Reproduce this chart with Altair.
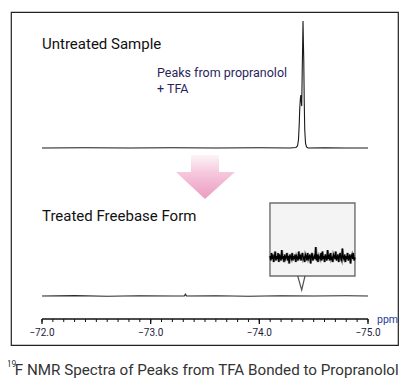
import altair as alt
import pandas as pd

# ---------------- data ----------------
# Untreated sample: 19F spectrum (ppm, normalised intensity)
upper_ppm = [-72.0, -72.4, -72.8, -73.2, -73.6, -74.0, -74.282, -74.337, -74.351, -74.360,
             -74.367, -74.372, -74.378, -74.382, -74.386, -74.390, -74.395, -74.402, -74.405,
             -74.409, -74.413, -74.418, -74.425, -74.434, -74.448, -74.6, -74.8, -75.0]
upper_int = [0.0, 0.002, 0.0, 0.002, 0.0, 0.002, 0.0, 0.004, 0.016, 0.063,
             0.181, 0.315, 0.394, 0.417, 0.37, 0.33, 0.62, 1.0, 0.85,
             0.69, 0.378, 0.142, 0.039, 0.008, 0.0, 0.002, 0.0, 0.0]

# Treated free-base form: flat spectrum (ppm, normalised intensity)
lower_ppm = [-72.0, -72.3, -72.6, -72.9, -73.2, -73.31, -73.32, -73.33, -73.6, -73.9,
             -74.2, -74.5, -74.8, -75.0]
lower_int = [0.0, 0.003, -0.002, 0.002, 0.0, 0.0, 0.014, 0.0, 0.002, -0.002,
             0.002, 0.0, 0.002, 0.0]

# Inset: magnified noise around -74.4 ppm (offsets, px-like units)
inset_noise = [1, -2, 3, -1, 2, -3, 0, 4, -2, 1, -1, 3, -3, 2, 0, -2, 5, -1, 1, -3,
               2, -1, 0, 3, -2, 1, -4, 2, 0, -1, 3, -2, 1, -1, 2, -3, 1, 0, -2, 4,
               -1, 2, -2, 1, 3, -1, 0, -3, 2, 1, -2, 3, -1, 0, 2, -4, 1, 3, -2, 0,
               1, -1, 7, -2, 2, -3, 1, 0, -1, 3, -2, 4, -1, 1, -3, 2, 0, -2, 5, -1,
               2, -2, 3, -1, 0, -3, 2, 1, -1, 4, -2, 0, 2, -3, 1, 3, -1, -2, 6, 0,
               -1, 2, -3, 1, -1, 3, -2, 0, 2, -4, 1, 2, -1, 3, -2, 0]

major_ticks = [-72.0, -73.0, -74.0, -75.0]
tick_labels = ["\u221272.0", "\u221273.0", "\u221274.0", "\u221275.0"]
minor_ticks = [round(-72.0 - 0.1 * i, 1) for i in range(31)]

titles = ["Untreated Sample", "Treated Freebase Form"]
note_lines = ["Peaks from propranolol", "+ TFA"]
caption_sup = "19"
caption_main = "F NMR Spectra of Peaks from TFA Bonded to Propranolol"

# ---------------- layout (scale units) ----------------
W, H = 387, 333
X_DOMAIN = [-75.2761, -71.7147]
UPPER_BASE, LOWER_BASE, PEAK_H = 197, 49, 127
AXIS_V, MAJOR_END, MINOR_END, LABEL_V = 26, 21, 23, 9
NOISE_GAIN = 1.5

xs = alt.Scale(domain=X_DOMAIN, reverse=True, nice=False, zero=False)
ys = alt.Scale(domain=[0, H], nice=False, zero=False)

def X(f="ppm"):
    return alt.X(f"{f}:Q", scale=xs, axis=None)

def Y(f="v"):
    return alt.Y(f"{f}:Q", scale=ys, axis=None)

upper_df = pd.DataFrame({"ppm": upper_ppm,
                         "v": [UPPER_BASE + i * PEAK_H for i in upper_int],
                         "o": range(len(upper_ppm))})
lower_df = pd.DataFrame({"ppm": lower_ppm,
                         "v": [LOWER_BASE + i * PEAK_H for i in lower_int],
                         "o": range(len(lower_ppm))})

upper = alt.Chart(upper_df).mark_line(color="#1a1a1a", strokeWidth=1.1).encode(
    x=X(), y=Y(), order="o:Q")
lower = alt.Chart(lower_df).mark_line(color="#2a2a2a", strokeWidth=1.2).encode(
    x=X(), y=Y(), order="o:Q")

# axis
axis_line = alt.Chart(pd.DataFrame({"ppm": [major_ticks[0]], "ppm2": [major_ticks[-1]],
                                    "v": [AXIS_V]})).mark_rule(
    color="#111", strokeWidth=1.3).encode(x=X(), x2="ppm2:Q", y=Y())
minor = alt.Chart(pd.DataFrame({"ppm": minor_ticks, "v": AXIS_V, "v2": MINOR_END})).mark_rule(
    color="#111", strokeWidth=1).encode(x=X(), y=Y(), y2="v2:Q")
major = alt.Chart(pd.DataFrame({"ppm": major_ticks, "v": AXIS_V, "v2": MAJOR_END})).mark_rule(
    color="#111", strokeWidth=1.3).encode(x=X(), y=Y(), y2="v2:Q")
labels = alt.Chart(pd.DataFrame({"ppm": major_ticks, "v": LABEL_V, "t": tick_labels})).mark_text(
    font="Roboto", fontSize=10, color="#1c1c3c", align="center", baseline="alphabetic").encode(
    x=X(), y=Y(), text="t:N")
ppm_lbl = alt.Chart(pd.DataFrame({"ppm": [-75.083], "v": [22], "t": ["ppm"]})).mark_text(
    font="Roboto", fontSize=10.5, color="#1f3a9a", align="left", baseline="alphabetic").encode(
    x=X(), y=Y(), text="t:N")

# arrow
arrow_df = pd.DataFrame({"v": [190, 173, 172.9, 146],
                         "xl": [-73.371, -73.371, -73.233, -73.5],
                         "xr": [-73.629, -73.629, -73.776, -73.5]})
arrow = alt.Chart(arrow_df).mark_area(
    orient="horizontal",
    color=alt.Gradient(gradient="linear",
                       stops=[alt.GradientStop(color="#fdf4f8", offset=0),
                              alt.GradientStop(color="#f6c8dd", offset=0.4),
                              alt.GradientStop(color="#ec9bc1", offset=1)],
                       x1=0, x2=0, y1=0, y2=1)).encode(
    y=Y(), x=X("xl"), x2="xr:Q")

# inset
box = alt.Chart(pd.DataFrame({"ppm": [-74.098], "ppm2": [-74.880], "v": [69], "v2": [142]})).mark_rect(
    fill="#f4f4f4", stroke="#6e6e6e", strokeWidth=1.4).encode(x=X(), x2="ppm2:Q", y=Y(), y2="v2:Q")
n = len(inset_noise)
noise_df = pd.DataFrame({"ppm": [-74.098 - i * (0.782 / (n - 1)) for i in range(n)],
                         "v": [87.5 + d * NOISE_GAIN for d in inset_noise], "o": range(n)})
noise_halo = alt.Chart(noise_df).mark_line(color="#8a8a8a", strokeWidth=2.6).encode(
    x=X(), y=Y(), order="o:Q")
noise = alt.Chart(noise_df).mark_line(color="#000", strokeWidth=1.3).encode(
    x=X(), y=Y(), order="o:Q")
pointer = alt.Chart(pd.DataFrame({"ppm": [-74.353, -74.390, -74.420], "v": [69, 55, 69],
                                  "o": [0, 1, 2]})).mark_line(color="#555", strokeWidth=1.2).encode(
    x=X(), y=Y(), order="o:Q")

# texts
t1 = alt.Chart(pd.DataFrame({"ppm": [-72.0], "v": [295.7], "t": [titles[0]]})).mark_text(
    font="Roboto", fontSize=15, color="#111", align="left", baseline="alphabetic").encode(
    x=X(), y=Y(), text="t:N")
t2 = alt.Chart(pd.DataFrame({"ppm": [-72.0], "v": [124.3], "t": [titles[1]]})).mark_text(
    font="Roboto", fontSize=15, color="#111", align="left", baseline="alphabetic").encode(
    x=X(), y=Y(), text="t:N")
note = alt.Chart(pd.DataFrame({"ppm": [-73.058, -73.058], "v": [268.3, 252.0],
                               "t": note_lines})).mark_text(
    font="Roboto", fontSize=12.5, color="#2b1f5c", align="left", baseline="alphabetic").encode(
    x=X(), y=Y(), text="t:N")
cap1 = alt.Chart(pd.DataFrame({"ppm": [-71.675], "v": [-22], "t": [caption_sup]})).mark_text(
    font="Roboto", fontSize=8.5, color="#333", align="left", baseline="alphabetic").encode(
    x=X(), y=Y(), text="t:N")
cap2 = alt.Chart(pd.DataFrame({"ppm": [-71.750], "v": [-30], "t": [caption_main]})).mark_text(
    font="Roboto", fontSize=15.2, color="#333", align="left", baseline="alphabetic").encode(
    x=X(), y=Y(), text="t:N")

chart = alt.layer(upper, lower, axis_line, minor, major, labels, ppm_lbl, arrow,
                  box, noise_halo, noise, pointer, t1, t2, note, cap1, cap2).properties(
    width=W, height=H,
    autosize=alt.AutoSizeParams(type="none"),
    padding={"left": 3, "top": 4, "right": 4, "bottom": 38},
    background="white",
).configure_view(stroke="#222", strokeWidth=1.2)

chart.save("out.html", embed_options={"renderer": "svg", "actions": False})
